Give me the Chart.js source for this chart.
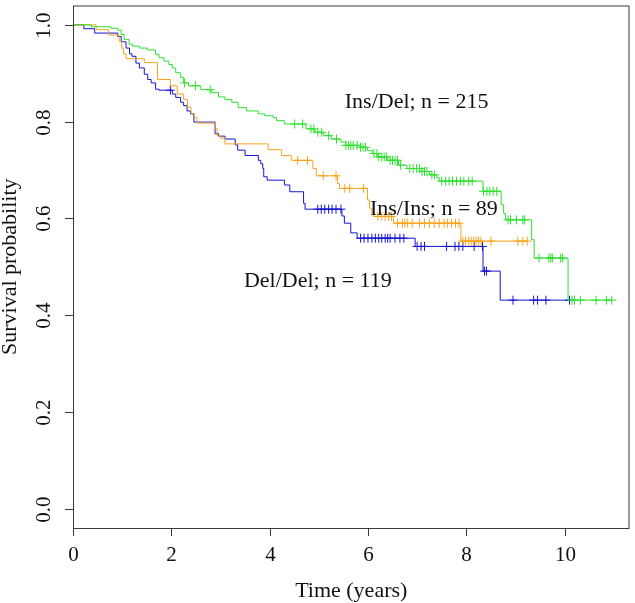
<!DOCTYPE html>
<html>
<head>
<meta charset="utf-8">
<script src="https://cdn.jsdelivr.net/npm/chart.js@4.4.1/dist/chart.umd.min.js"></script>
<style>
  html, body { margin: 0; padding: 0; background: #fff; }
  canvas { display: block; }
</style>
</head>
<body>
<canvas id="km" width="635" height="603"></canvas>
<script>
// Kaplan-Meier steps: time (years) and survival after each drop
const insDelTime = [0, 0.37, 0.77, 0.91, 0.98, 1.04, 1.14, 1.21, 1.35, 1.51, 1.68, 1.75, 1.85, 1.95, 2.02, 2.09, 2.19, 2.25, 2.35, 2.6, 2.82, 2.96, 3.09, 3.23, 3.36, 3.53, 3.77, 3.9, 4.07, 4.14, 4.3, 4.74, 4.92, 5.1, 5.25, 5.45, 5.55, 5.85, 5.99, 6.09, 6.2, 6.4, 6.62, 6.79, 7.1, 7.25, 7.4, 7.45, 8.34, 8.71, 8.76, 8.8, 9.33, 9.38, 10.07, 10.96];
const insDelSurv = [1, 0.996, 0.993, 0.989, 0.98, 0.97, 0.96, 0.956, 0.952, 0.948, 0.939, 0.932, 0.925, 0.918, 0.911, 0.901, 0.891, 0.88, 0.874, 0.866, 0.86, 0.851, 0.846, 0.84, 0.829, 0.822, 0.816, 0.812, 0.808, 0.802, 0.795, 0.785, 0.778, 0.771, 0.764, 0.758, 0.751, 0.747, 0.74, 0.734, 0.727, 0.72, 0.71, 0.703, 0.697, 0.69, 0.684, 0.677, 0.656, 0.628, 0.61, 0.597, 0.556, 0.518, 0.431, 0.431];
const insDelCens = [2.27, 2.49, 2.79, 4.51, 4.67, 4.84, 4.9, 4.98, 5.06, 5.2, 5.36, 5.55, 5.6, 5.65, 5.7, 5.78, 5.85, 5.9, 5.95, 6.12, 6.18, 6.22, 6.28, 6.33, 6.38, 6.45, 6.5, 6.55, 6.6, 6.66, 6.85, 6.92, 6.99, 7.05, 7.1, 7.15, 7.2, 7.3, 7.35, 7.5, 7.58, 7.65, 7.72, 7.8, 7.88, 7.95, 8.05, 8.12, 8.35, 8.42, 8.48, 8.55, 8.62, 8.85, 8.9, 9.02, 9.15, 9.18, 9.48, 9.68, 9.72, 9.75, 9.92, 9.96, 10.15, 10.2, 10.32, 10.64, 10.85, 10.96];

const insInsTime = [0, 0.47, 0.72, 0.94, 0.99, 1.03, 1.08, 1.45, 1.72, 1.98, 2.12, 2.25, 2.33, 2.4, 2.47, 2.52, 2.89, 2.93, 3.0, 3.09, 3.97, 4.24, 4.44, 4.88, 4.95, 5.38, 5.42, 5.99, 6.03, 6.08, 6.12, 6.52, 7.89, 9.24];
const insInsSurv = [1, 0.99, 0.979, 0.966, 0.952, 0.94, 0.93, 0.922, 0.887, 0.874, 0.857, 0.846, 0.83, 0.816, 0.809, 0.797, 0.785, 0.771, 0.766, 0.754, 0.742, 0.73, 0.72, 0.703, 0.688, 0.672, 0.662, 0.638, 0.621, 0.611, 0.604, 0.59, 0.553, 0.553];
const insInsCens = [4.57, 4.77, 5.09, 5.35, 5.53, 5.63, 5.91, 6.2, 6.28, 6.35, 6.42, 6.48, 6.6, 6.7, 6.75, 6.8, 6.9, 7.05, 7.15, 7.25, 7.35, 7.45, 7.55, 7.62, 7.7, 7.78, 7.85, 7.93, 7.98, 8.05, 8.1, 8.15, 8.2, 8.25, 8.3, 8.5, 9.05, 9.15, 9.24];

const delDelTime = [0, 0.22, 0.44, 0.91, 0.98, 1.08, 1.15, 1.2, 1.28, 1.35, 1.45, 1.52, 1.59, 1.68, 1.75, 2.02, 2.09, 2.19, 2.25, 2.32, 2.39, 2.46, 2.89, 2.96, 3.09, 3.3, 3.35, 3.5, 3.77, 3.82, 3.86, 3.88, 3.95, 4.3, 4.41, 4.69, 4.72, 5.47, 5.52, 5.65, 5.78, 6.96, 8.34, 8.69, 10.1];
const delDelSurv = [1, 0.992, 0.983, 0.976, 0.965, 0.952, 0.94, 0.935, 0.921, 0.911, 0.898, 0.887, 0.88, 0.867, 0.865, 0.857, 0.85, 0.84, 0.833, 0.822, 0.816, 0.799, 0.775, 0.77, 0.764, 0.752, 0.741, 0.73, 0.72, 0.713, 0.703, 0.686, 0.679, 0.669, 0.655, 0.631, 0.619, 0.605, 0.59, 0.57, 0.559, 0.542, 0.491, 0.431, 0.431];
const delDelCens = [1.98, 4.98, 5.05, 5.12, 5.2, 5.27, 5.35, 5.45, 5.85, 5.92, 6.0, 6.08, 6.15, 6.22, 6.28, 6.35, 6.4, 6.45, 6.55, 6.65, 6.73, 7.0, 7.08, 7.15, 7.6, 7.77, 7.85, 7.93, 8.16, 8.33, 8.37, 8.41, 8.95, 9.37, 9.45, 9.62, 10.1];

// axis ticks and in-plot labels
const xTicks = [0, 2, 4, 6, 8, 10];
const yTicks = [0, 0.2, 0.4, 0.6, 0.8, 1.0];
const groupLabels = ['Ins/Del; n = 215', 'Ins/Ins; n = 89', 'Del/Del; n = 119'];
const groupLabelT = [6.99, 7.34, 4.98];
const groupLabelS = [0.84, 0.619, 0.47];

const GREEN = '#2fe02f';
const ORANGE = '#f7a41c';
const BLUE = '#1414d2';
const SERIF = '"Liberation Serif", "Times New Roman", serif';

function steps(times, surv) {
  return times.map((t, i) => ({ x: t, y: surv[i] }));
}

// censor marks sit on the curve at their time
function marks(cens, times, surv) {
  return cens.map(t => {
    let s = surv[0];
    for (let i = 0; i < times.length; i++) {
      if (times[i] <= t) s = surv[i];
    }
    return { x: t, y: s };
  });
}

function curve(label, times, surv, color) {
  return {
    label: label,
    data: steps(times, surv),
    borderColor: color,
    borderWidth: 1,
    stepped: 'before',
    showLine: true,
    pointRadius: 0,
    fill: false
  };
}

function censored(cens, times, surv, color) {
  return {
    data: marks(cens, times, surv),
    borderColor: color,
    backgroundColor: color,
    borderWidth: 1,
    pointStyle: 'cross',
    pointRadius: 4.5,
    showLine: false
  };
}

// R-like axes, box and text
const rAxes = {
  id: 'rAxes',
  afterDraw(chart) {
    const ctx = chart.ctx;
    const a = chart.chartArea;
    const xs = chart.scales.x;
    const ys = chart.scales.y;
    ctx.save();
    ctx.strokeStyle = '#3a3a3a';
    ctx.lineWidth = 1;
    ctx.strokeRect(a.left + 0.5, a.top + 0.5, a.right - a.left - 1, a.bottom - a.top);

    ctx.fillStyle = '#111';
    ctx.font = '21px ' + SERIF;
    ctx.textAlign = 'center';
    ctx.textBaseline = 'middle';
    xTicks.forEach(v => {
      const px = Math.round(xs.getPixelForValue(v)) + 0.5;
      ctx.beginPath();
      ctx.moveTo(px, a.bottom);
      ctx.lineTo(px, a.bottom + 8);
      ctx.stroke();
      ctx.fillText(String(v), px, a.bottom + 27);
    });
    yTicks.forEach(v => {
      const py = Math.round(ys.getPixelForValue(v)) + 0.5;
      ctx.beginPath();
      ctx.moveTo(a.left, py);
      ctx.lineTo(a.left - 8, py);
      ctx.stroke();
      ctx.save();
      ctx.translate(a.left - 29, py);
      ctx.rotate(-Math.PI / 2);
      ctx.fillText(v.toFixed(1), 0, 0);
      ctx.restore();
    });

    ctx.font = '22px ' + SERIF;
    ctx.fillText('Time (years)', (a.left + a.right) / 2, a.bottom + 63);
    ctx.save();
    ctx.translate(10, (a.top + a.bottom) / 2);
    ctx.rotate(-Math.PI / 2);
    ctx.fillText('Survival probability', 0, 0);
    ctx.restore();

    groupLabels.forEach((txt, i) => {
      ctx.fillText(txt, xs.getPixelForValue(groupLabelT[i]), ys.getPixelForValue(groupLabelS[i]));
    });
    ctx.restore();
  }
};

new Chart(document.getElementById('km'), {
  type: 'scatter',
  data: {
    datasets: [
      curve('Ins/Del', insDelTime, insDelSurv, GREEN),
      curve('Ins/Ins', insInsTime, insInsSurv, ORANGE),
      curve('Del/Del', delDelTime, delDelSurv, BLUE),
      censored(insDelCens, insDelTime, insDelSurv, GREEN),
      censored(insInsCens, insInsTime, insInsSurv, ORANGE),
      censored(delDelCens, delDelTime, delDelSurv, BLUE)
    ]
  },
  options: {
    responsive: false,
    animation: false,
    layout: { padding: { left: 73, top: 1, right: 1, bottom: 75 } },
    plugins: { legend: { display: false }, tooltip: { enabled: false } },
    scales: {
      x: { type: 'linear', min: 0, max: 11.32, display: false },
      y: { type: 'linear', min: -0.04, max: 1.04, display: false }
    }
  },
  plugins: [rAxes]
});
</script>
</body>
</html>
